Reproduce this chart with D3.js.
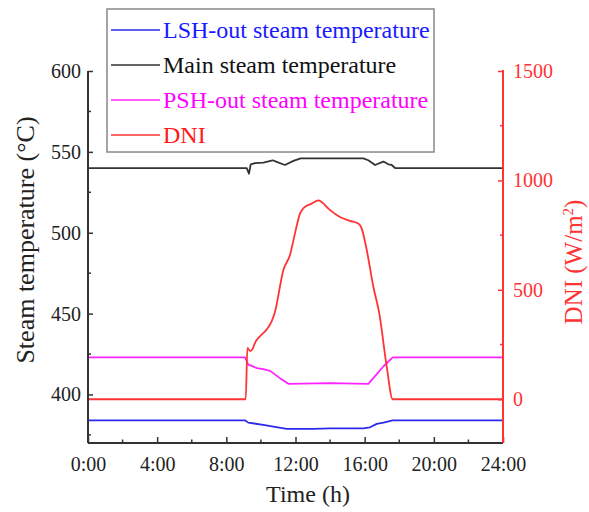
<!DOCTYPE html>
<html>
<head>
<meta charset="utf-8">
<script src="https://cdn.jsdelivr.net/npm/d3@7"></script>
<style>
  body { margin: 0; background: #fff; }
  svg, svg text { font-family: "Liberation Serif", "Times New Roman", serif; }
</style>
</head>
<body>
<div id="chart"></div>
<script>
// time (h) and values
const xTicks = [0, 4, 8, 12, 16, 20, 24];
const leftTicks = [400, 450, 500, 550, 600];
const rightTicks = [0, 500, 1000, 1500];

const lshOut = [
  [0, 384], [9.08, 384], [9.27, 382.6], [10.14, 381.2], [10.72, 380.1], [11.49, 378.7],
  [13.03, 378.7], [14, 379.1], [15.92, 379.1], [16.31, 379.7], [16.7, 381.8],
  [17.08, 382.6], [17.62, 384], [24, 384]
];

const mainSteam = [
  [0, 540], [9.18, 540], [9.31, 536.5], [9.41, 542.3], [9.66, 543], [10.14, 543.4],
  [10.68, 544.8], [10.91, 543.8], [11.39, 541.9], [11.88, 544.4], [12.3, 546],
  [15.92, 546], [16.21, 544.8], [16.6, 541.9], [17.08, 544], [17.37, 542.3],
  [17.56, 541.9], [17.76, 540], [24, 540]
];

const pshOut = [
  [0, 423], [9.08, 423], [9.27, 418.4], [9.47, 417.7], [9.76, 416.3], [10.14, 415.7],
  [10.53, 414.6], [11.1, 410.1], [11.59, 406.6], [14, 407], [16.21, 406.6],
  [16.5, 410.1], [17.08, 417.3], [17.62, 423], [24, 423]
];

const dni = [
  [0, 0], [9.12, 0], [9.22, 235], [9.37, 220], [9.52, 230], [9.66, 258], [9.95, 288],
  [10.33, 318], [10.62, 356], [10.8, 395], [11.3, 591], [11.68, 659], [11.97, 758],
  [12.26, 848], [12.49, 876], [12.94, 894], [13.32, 909], [13.51, 901], [14, 864],
  [14.57, 833], [15.15, 815], [15.63, 803], [15.83, 780], [16.12, 682], [16.5, 515],
  [16.85, 390], [17.27, 152], [17.62, 0], [24, 0]
];

const series = [
  { name: 'LSH-out steam temperature', color: '#2b2bf0', text: '#1a1aff', data: lshOut, axis: 'left' },
  { name: 'Main steam temperature', color: '#333333', text: '#111', data: mainSteam, axis: 'left' },
  { name: 'PSH-out steam temperature', color: '#ff22ff', text: '#ff00ff', data: pshOut, axis: 'left' },
  { name: 'DNI', color: '#ff3333', text: '#ff1a1a', data: dni, axis: 'right' }
];

const config = {
  width: 589,
  height: 512,
  margin: { top: 71, right: 86, bottom: 69, left: 88 }
};

const width = config.width - config.margin.left - config.margin.right;
const height = config.height - config.margin.top - config.margin.bottom;
const axisColor = '#333';
const red = '#ff3333';

const svg = d3.select('#chart').append('svg')
  .attr('width', config.width)
  .attr('height', config.height);

const chart = svg.append('g')
  .attr('transform', `translate(${config.margin.left},${config.margin.top})`);

const xScale = d3.scaleLinear().domain([0, 24]).range([0, width]);
const yLeft = d3.scaleLinear().domain([370, 600]).range([height, 0]);
const yRight = d3.scaleLinear().domain([-200, 1500]).range([height, 0]);

// series lines
series.forEach(s => {
  const y = s.axis === 'left' ? yLeft : yRight;
  const line = d3.line()
    .x(d => xScale(d[0]))
    .y(d => y(d[1]))
    .curve(s.axis === 'right' ? d3.curveMonotoneX : d3.curveLinear);
  chart.append('path')
    .datum(s.data)
    .attr('fill', 'none')
    .attr('stroke', s.color)
    .attr('stroke-width', 1.8)
    .attr('stroke-linejoin', 'round')
    .attr('d', line);
});

// axes (ticks point inward)
const xAxis = chart.append('g')
  .attr('transform', `translate(0,${height})`)
  .call(d3.axisBottom(xScale).tickValues(xTicks).tickSize(-6).tickPadding(14)
    .tickFormat(d => d + ':00'));
xAxis.append('g').selectAll('line')
  .data(d3.range(2, 24, 4))
  .join('line')
  .attr('x1', d => xScale(d)).attr('x2', d => xScale(d))
  .attr('y1', 0).attr('y2', -3.5);

const leftAxis = chart.append('g')
  .call(d3.axisLeft(yLeft).tickValues(leftTicks).tickSize(-5).tickPadding(7));
leftAxis.append('g').selectAll('line')
  .data([375, 425, 475, 525, 575])
  .join('line')
  .attr('x1', 0).attr('x2', 3)
  .attr('y1', d => yLeft(d)).attr('y2', d => yLeft(d));

const rightAxis = chart.append('g')
  .attr('transform', `translate(${width},0)`)
  .call(d3.axisRight(yRight).tickValues(rightTicks).tickSize(-5).tickPadding(10)
    .tickFormat(d3.format('d')));
rightAxis.append('g').selectAll('line')
  .data([250, 750, 1250])
  .join('line')
  .attr('x1', 0).attr('x2', -3)
  .attr('y1', d => yRight(d)).attr('y2', d => yRight(d));

[xAxis, leftAxis].forEach(a => {
  a.select('.domain').attr('stroke', axisColor).attr('stroke-width', 2);
  a.selectAll('line').attr('stroke', axisColor).attr('stroke-width', 1.5);
  a.selectAll('text').attr('font-size', 20).attr('fill', '#222');
});
rightAxis.select('.domain').attr('stroke', red).attr('stroke-width', 2);
rightAxis.selectAll('line').attr('stroke', red).attr('stroke-width', 1.5);
rightAxis.selectAll('text').attr('font-size', 20).attr('fill', red);
[xAxis, leftAxis, rightAxis].forEach(a => a.attr('font-family', null));

// remove the end caps d3 draws on the domain path
xAxis.select('.domain').attr('d', `M0,0H${width}`);
leftAxis.select('.domain').attr('d', `M0,0V${height}`);
rightAxis.select('.domain').attr('d', `M0,-1V${height}`);

// axis titles
svg.append('text')
  .attr('x', 308).attr('y', 502)
  .attr('text-anchor', 'middle')
  .attr('font-size', 24)
  .attr('fill', '#222')
  .text('Time (h)');

svg.append('text')
  .attr('transform', 'translate(34,240) rotate(-90)')
  .attr('text-anchor', 'middle')
  .attr('font-size', 26)
  .attr('fill', '#222')
  .text('Steam temperature (°C)');

const dniTitle = svg.append('text')
  .attr('transform', 'translate(582,262) rotate(-90)')
  .attr('text-anchor', 'middle')
  .attr('font-size', 25)
  .attr('fill', red);
dniTitle.append('tspan').text('DNI (W/m');
dniTitle.append('tspan').attr('font-size', 15).attr('dy', -9).text('2');
dniTitle.append('tspan').attr('dy', 9).text(')');

// legend
const legend = svg.append('g').attr('transform', 'translate(107,9)');
legend.append('rect')
  .attr('width', 327).attr('height', 143)
  .attr('fill', '#fff')
  .attr('stroke', '#888')
  .attr('stroke-width', 1.5);

const rows = legend.selectAll('.legend-row')
  .data(series)
  .join('g')
  .attr('class', 'legend-row')
  .attr('transform', (d, i) => `translate(0,${21 + i * 35})`);
rows.append('line')
  .attr('x1', 4).attr('x2', 53)
  .attr('stroke', d => d.color)
  .attr('stroke-width', 1.5);
rows.append('text')
  .attr('x', 56).attr('dy', '0.35em')
  .attr('font-size', 24)
  .attr('fill', d => d.text)
  .text(d => d.name);
</script>
</body>
</html>
